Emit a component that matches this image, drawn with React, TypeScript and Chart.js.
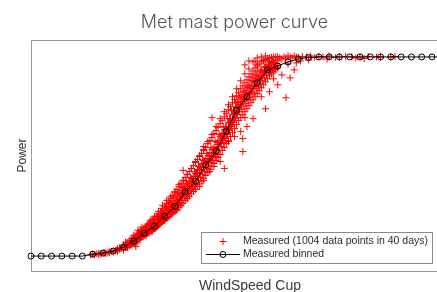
import { useEffect, useRef } from "react";
import { Chart, registerables } from "chart.js";

Chart.register(...registerables);

const titleText = "Met mast power curve";
const xLabel = "WindSpeed Cup";
const yLabel = "Power";
const scatterLabel = "Measured (1004 data points in 40 days)";
const binnedLabel = "Measured binned";

const xRange = [0, 21.3];
const yRange = [-150, 2170];

const binWind = [
  0, 0.5, 1, 1.5, 2, 2.5, 3, 3.5, 4, 4.5, 5, 5.5, 6, 6.5, 7, 7.5, 8, 8.5, 9, 9.5,
  10, 10.5, 11, 11.5, 12, 12.5, 13, 13.5, 14, 14.5, 15, 15.5, 16, 16.5, 17, 17.5,
  18, 18.5, 19, 19.5, 20, 20.5,
];
const binPower = [
  0, 0, 0, 0, 0, 0, 20, 30, 50, 90, 150, 230, 300, 400, 500, 645, 755, 915, 1055, 1255,
  1465, 1600, 1740, 1870, 1910, 1950, 1980, 1995, 2000, 2000, 2000, 2000, 2000, 2000, 2000, 2000,
  2000, 2000, 2000, 2000, 2000, 2000,
];

// scattered measurements [wind speed, power]
const measuredPoints: [number, number][] = [
  [2.9, 10], [3.0, 18], [3.1, 12], [3.2, 22], [3.3, 15], [3.3, 28], [3.4, 20], [3.5, 32], [3.6, 25],
  [3.6, 38], [3.7, 30], [3.8, 42], [3.8, 35], [3.9, 48], [4.0, 40], [4.1, 58], [4.2, 45], [4.2, 62],
  [4.2, 75], [4.3, 68], [4.3, 85], [4.4, 80], [4.5, 72], [4.5, 95], [4.6, 90], [4.6, 110], [4.7, 85],
  [4.7, 120], [4.8, 105], [4.8, 135], [4.9, 120], [4.9, 150], [5.0, 140], [5.1, 95], [5.0, 170], [4.8, 160],
  [5.1, 165], [5.1, 190], [5.2, 175], [5.2, 210], [5.3, 200], [5.3, 235], [5.4, 215], [5.4, 250], [5.5, 225],
  [5.5, 260], [5.6, 245], [5.6, 280], [5.7, 240], [5.7, 300], [5.8, 270], [5.8, 320], [5.9, 290], [5.9, 340],
  [6.0, 310], [6.0, 280], [5.4, 290], [5.2, 260], [5.6, 205], [5.9, 250], [6.1, 300], [5.0, 210], [5.3, 165],
  [6.1, 340], [6.1, 370], [6.2, 355], [6.2, 400], [6.3, 380], [6.3, 420], [6.4, 395], [6.4, 440], [6.5, 410],
  [6.5, 460], [6.6, 430], [6.6, 480], [6.7, 450], [6.7, 500], [6.8, 470], [6.8, 520], [6.9, 490], [6.9, 545],
  [7.0, 510], [7.0, 470], [6.0, 400], [6.2, 450], [6.4, 510], [6.6, 380], [6.8, 420], [7.1, 460], [7.2, 520],
  [5.8, 360], [6.5, 360], [6.9, 440],
  [7.1, 560], [7.1, 600], [7.2, 575], [7.2, 640], [7.3, 600], [7.3, 660], [7.4, 620], [7.4, 690], [7.5, 650],
  [7.5, 700], [7.6, 630], [7.6, 720], [7.7, 680], [7.7, 750], [7.8, 700], [7.8, 780], [7.9, 740], [7.9, 800],
  [8.0, 760], [8.0, 720], [6.8, 600], [7.0, 650], [7.2, 720], [7.4, 760], [7.6, 580], [7.9, 650], [8.2, 700],
  [8.4, 760], [6.6, 560], [7.3, 540],
  [8.0, 830], [8.1, 800], [8.1, 870], [8.2, 840], [8.2, 900], [8.3, 870], [8.3, 930], [8.4, 900], [8.4, 960],
  [8.5, 920], [8.5, 980], [8.6, 950], [8.6, 1010], [8.7, 970], [8.7, 1040], [8.8, 1000], [8.8, 1070], [8.9, 1030],
  [8.9, 1090], [9.0, 1060], [9.0, 1000], [7.6, 820], [7.8, 880], [8.0, 950], [8.2, 1010], [8.4, 1070], [8.7, 850],
  [8.9, 900], [9.2, 950], [9.4, 880], [7.4, 860], [9.1, 1120],
  [9.1, 1100], [9.1, 1160], [9.2, 1130], [9.2, 1200], [9.3, 1160], [9.3, 1230], [9.4, 1190], [9.4, 1270], [9.5, 1230],
  [9.5, 1300], [9.6, 1260], [9.6, 1340], [9.7, 1300], [9.7, 1380], [9.8, 1340], [9.8, 1420], [9.9, 1380], [9.9, 1460],
  [10.0, 1430], [10.0, 1500], [8.6, 1150], [8.8, 1220], [9.0, 1300], [9.2, 1380], [9.4, 1450], [9.6, 1150], [9.9, 1200],
  [10.2, 1250], [10.5, 1300], [10.3, 1180], [8.4, 1100], [10.8, 1380], [8.8, 1390], [10.3, 1050], [10.4, 1390],
  [10.1, 1480], [10.1, 1550], [10.2, 1520], [10.2, 1590], [10.3, 1550], [10.3, 1620], [10.4, 1580], [10.4, 1660],
  [10.5, 1610], [10.5, 1690], [10.6, 1640], [10.6, 1720], [10.7, 1680], [10.7, 1760], [10.8, 1710], [10.8, 1790],
  [10.9, 1750], [10.9, 1820], [11.0, 1780], [11.0, 1850], [11.1, 1810], [11.2, 1870], [11.3, 1840], [11.4, 1900],
  [11.5, 1880], [9.6, 1520], [9.8, 1600], [10.0, 1680], [10.2, 1760], [10.4, 1830], [10.6, 1880], [11.2, 1600],
  [11.6, 1650], [11.4, 1480], [12.4, 1590], [12.0, 1720], [11.8, 1780], [12.2, 1820], [12.6, 1790], [12.8, 1870],
  [11.6, 1920], [11.7, 1950], [11.8, 1930], [11.9, 1970], [12.0, 1960], [12.1, 1990], [12.2, 1980], [12.3, 2000],
  [12.4, 1990], [12.5, 2010], [12.6, 2000], [12.7, 1990], [12.8, 2010], [12.9, 2000], [13.0, 1995], [13.2, 2005],
  [13.4, 2000], [13.6, 2010], [13.8, 1995], [14.0, 2005], [14.2, 2000], [14.5, 2010], [14.8, 1995], [15.0, 2000],
  [15.3, 2005], [15.6, 2000], [16.0, 2000], [16.4, 2005], [16.8, 2000], [17.5, 2000], [10.8, 1950], [11.0, 1990],
  [11.2, 2000], [11.4, 2010], [11.0, 1920], [10.9, 1960], [11.3, 1960], [12.9, 1940], [13.1, 1960], [13.5, 1970],
  [12.5, 1930], [14.4, 1980], [15.8, 1990], [16.2, 1985], [10.6, 1960], [10.4, 1920], [17.0, 2000], [17.7, 2005],
  [4.5, 60], [4.5, 110], [4.5, 95], [4.6, 85], [4.6, 120], [4.6, 140], [4.7, 100], [4.7, 135], [4.7, 90],
  [4.8, 110], [4.8, 150], [4.8, 125], [4.9, 120], [4.9, 175], [4.9, 140], [5.0, 135], [5.0, 190], [5.0, 155],
  [5.1, 150], [5.1, 200], [5.1, 130], [5.2, 165], [5.2, 220], [5.2, 190], [5.3, 180], [5.3, 245], [5.3, 205],
  [5.4, 195], [5.4, 260], [5.4, 230], [5.5, 210], [5.5, 280], [5.5, 240], [5.6, 225], [5.6, 300], [5.6, 255],
  [5.7, 235], [5.7, 320], [5.7, 270], [5.8, 250], [5.8, 340], [5.8, 285], [5.9, 260], [5.9, 360], [5.9, 300],
  [6.0, 275], [6.0, 380], [6.0, 320], [6.1, 290], [6.1, 400], [6.1, 335], [6.2, 310], [6.2, 430], [6.2, 355],
  [6.3, 330], [6.3, 450], [6.3, 375], [6.4, 345], [6.4, 480], [6.4, 400], [6.5, 360], [6.5, 500], [6.5, 420],
  [6.6, 380], [6.6, 530], [6.6, 440], [6.7, 395], [6.7, 555], [6.7, 460], [6.8, 415], [6.8, 580], [6.8, 485],
  [6.9, 430], [6.9, 610], [6.9, 500], [7.0, 450], [7.0, 640], [7.0, 520], [7.1, 470], [7.1, 670], [7.1, 545],
  [7.2, 490], [7.2, 700], [7.2, 570], [7.3, 510], [7.3, 730], [7.3, 600], [7.4, 530], [7.4, 760], [7.4, 625],
  [7.5, 560], [7.5, 790], [7.5, 655], [7.6, 580], [7.6, 820], [7.6, 680], [7.7, 600], [7.7, 850], [7.7, 700],
  [7.8, 625], [7.8, 880], [7.8, 725], [7.9, 650], [7.9, 910], [7.9, 750], [8.0, 670], [8.0, 940], [8.0, 775],
  [8.1, 700], [8.1, 970], [8.1, 800], [8.2, 725], [8.2, 1000], [8.2, 830], [8.3, 750], [8.3, 1030], [8.3, 860],
  [8.4, 780], [8.4, 1060], [8.4, 890], [8.5, 810], [8.5, 1090], [8.5, 925], [8.6, 840], [8.6, 1130], [8.6, 950],
  [8.7, 870], [8.7, 1160], [8.7, 980], [8.8, 900], [8.8, 1190], [8.8, 1010], [8.9, 930], [8.9, 1230], [8.9, 1040],
  [9.0, 960], [9.0, 1260], [9.0, 1070], [9.1, 990], [9.1, 1290], [9.1, 1100], [9.2, 1020], [9.2, 1330], [9.2, 1140],
  [9.3, 1060], [9.3, 1360], [9.3, 1180], [9.4, 1090], [9.4, 1400], [9.4, 1220], [9.5, 1130], [9.5, 1430], [9.5, 1260],
  [9.6, 1160], [9.6, 1470], [9.6, 1300], [9.7, 1200], [9.7, 1500], [9.7, 1340], [9.8, 1240], [9.8, 1540], [9.8, 1380],
  [9.9, 1280], [9.9, 1570], [9.9, 1420], [10.0, 1320], [10.0, 1610], [10.0, 1460], [10.1, 1360], [10.1, 1640], [10.1, 1490],
  [10.2, 1390], [10.2, 1680], [10.2, 1520], [10.3, 1420], [10.3, 1710], [10.3, 1550], [10.4, 1450], [10.4, 1740], [10.4, 1575],
  [10.5, 1480], [10.5, 1770], [10.5, 1600], [10.6, 1510], [10.6, 1800], [10.6, 1630], [10.7, 1540], [10.7, 1830], [10.7, 1655],
  [10.8, 1570], [10.8, 1860], [10.8, 1685], [10.9, 1600], [10.9, 1890], [10.9, 1710], [11.0, 1630], [11.0, 1910], [11.0, 1740],
  [11.1, 1660], [11.1, 1930], [11.1, 1770], [11.2, 1690], [11.2, 1950], [11.2, 1790], [11.3, 1720], [11.3, 1965], [11.3, 1820],
  [11.4, 1750], [11.4, 1975], [11.4, 1845], [11.5, 1780], [11.5, 1985], [11.5, 1870], [11.6, 1810], [11.6, 1990], [11.6, 1880],
  [11.7, 1830], [11.7, 1995], [11.7, 1890], [11.8, 1850], [11.8, 2000], [11.8, 1900], [11.9, 1870], [11.9, 2000], [11.9, 1905],
  [12.0, 1890], [12.0, 2005], [12.0, 1915],
  [5.05, 175], [5.05, 120], [5.15, 150], [5.15, 215], [5.25, 230], [5.25, 170], [5.35, 185], [5.35, 265],
  [5.45, 255], [5.45, 200], [5.55, 210], [5.55, 290], [5.65, 300], [5.65, 225], [5.75, 240], [5.75, 330],
  [5.85, 315], [5.85, 250], [5.95, 270], [5.95, 365], [6.05, 350], [6.05, 280], [6.15, 300], [6.15, 395],
  [6.25, 390], [6.25, 320], [6.35, 345], [6.35, 445], [6.45, 430], [6.45, 355], [6.55, 380], [6.55, 490],
  [6.65, 470], [6.65, 395], [6.75, 420], [6.75, 535], [6.85, 520], [6.85, 430], [6.95, 460], [6.95, 585],
  [7.05, 560], [7.05, 470], [7.15, 505], [7.15, 625], [7.25, 620], [7.25, 530], [7.35, 560], [7.35, 690],
  [7.45, 680], [7.45, 590], [7.55, 610], [7.55, 745], [7.65, 730], [7.65, 635], [7.75, 660], [7.75, 790],
  [7.85, 775], [7.85, 680], [7.95, 700], [7.95, 845], [8.05, 830], [8.05, 725], [8.15, 760], [8.15, 900],
  [8.25, 890], [8.25, 790], [8.35, 820], [8.35, 965], [8.45, 955], [8.45, 850], [8.55, 880], [8.55, 1030],
  [8.65, 1010], [8.65, 905], [8.75, 940], [8.75, 1090], [8.85, 1075], [8.85, 960], [8.95, 990], [8.95, 1150],
  [9.05, 1140], [9.05, 1020], [9.15, 1060], [9.15, 1220], [9.25, 1215], [9.25, 1100], [9.35, 1140], [9.35, 1300],
  [9.45, 1295], [9.45, 1180], [9.55, 1220], [9.55, 1380], [9.65, 1380], [9.65, 1260], [9.75, 1300], [9.75, 1460],
  [9.85, 1465], [9.85, 1345], [9.95, 1390], [9.95, 1540], [10.05, 1540], [10.05, 1420], [10.15, 1450], [10.15, 1600],
  [10.25, 1590], [10.25, 1475], [10.35, 1505], [10.35, 1650], [10.45, 1645], [10.45, 1530], [10.55, 1560], [10.55, 1700],
  [10.65, 1700], [10.65, 1590], [10.75, 1620], [10.75, 1760], [10.85, 1750], [10.85, 1640], [10.95, 1680], [10.95, 1810],
  [11.05, 1800], [11.05, 1700], [11.15, 1730], [11.15, 1860], [11.25, 1850], [11.25, 1760], [11.35, 1790], [11.35, 1900],
  [11.45, 1895], [11.45, 1820], [11.55, 1850], [11.55, 1940], [11.65, 1920], [11.65, 1860], [11.75, 1870], [11.75, 1960],
  [11.85, 1940], [11.85, 1880],
];

const framePlugin = {
  id: "frameBox",
  beforeDatasetsDraw(chart: any) {
    const { ctx, chartArea } = chart;
    const l = Math.round(chartArea.left) + 0.5;
    const t = Math.round(chartArea.top) + 0.5;
    const b = Math.round(chartArea.bottom) + 0.5;
    const r = chart.width;
    ctx.save();
    ctx.strokeStyle = "#999999";
    ctx.lineWidth = 1;
    ctx.beginPath();
    ctx.moveTo(r, t);
    ctx.lineTo(l, t);
    ctx.lineTo(l, b);
    ctx.lineTo(r, b);
    ctx.stroke();
    ctx.restore();
  },
};

const legendPlugin = {
  id: "boxLegend",
  afterDraw(chart: any) {
    const { ctx, chartArea } = chart;
    const labels = chart.data.datasets.map((d: any) => d.label as string);
    ctx.save();
    ctx.font = "10.5px 'Liberation Sans', Arial, sans-serif";
    const textW = Math.max(...labels.map((s: string) => ctx.measureText(s).width));
    const boxW = Math.round(42 + textW + 4);
    const boxH = 31;
    const right = Math.round(chartArea.right - 37);
    const bottom = Math.round(chartArea.bottom - 8);
    const left = right - boxW;
    const top = bottom - boxH;
    ctx.fillStyle = "#ffffff";
    ctx.fillRect(left, top, boxW, boxH);
    ctx.strokeStyle = "#8a8a8a";
    ctx.lineWidth = 1;
    ctx.strokeRect(left + 0.5, top + 0.5, boxW, boxH);
    const row1 = top + 9.5;
    const row2 = top + 22.5;
    const mx = left + 22;
    ctx.strokeStyle = "#ff0000";
    ctx.beginPath();
    ctx.moveTo(mx - 3.5, row1);
    ctx.lineTo(mx + 3.5, row1);
    ctx.moveTo(mx, row1 - 3.5);
    ctx.lineTo(mx, row1 + 3.5);
    ctx.stroke();
    ctx.strokeStyle = "#000000";
    ctx.beginPath();
    ctx.moveTo(left + 5, row2);
    ctx.lineTo(left + 39, row2);
    ctx.stroke();
    ctx.beginPath();
    ctx.arc(mx, row2, 3, 0, Math.PI * 2);
    ctx.stroke();
    ctx.fillStyle = "#2a2a2a";
    ctx.textBaseline = "middle";
    ctx.textAlign = "left";
    ctx.fillText(labels[0], left + 42, row1);
    ctx.fillText(labels[1], left + 42, row2);
    ctx.restore();
  },
};

export default function App() {
  const ref = useRef<HTMLCanvasElement | null>(null);

  useEffect(() => {
    if (!ref.current) return;
    const chart = new Chart(ref.current, {
      type: "scatter",
      data: {
        datasets: [
          {
            label: scatterLabel,
            data: measuredPoints.map(([x, y]) => ({ x, y })),
            pointStyle: "cross",
            pointRadius: 3.5,
            borderColor: "#ff0000",
            backgroundColor: "#ff0000",
            borderWidth: 1,
            order: 2,
          },
          {
            label: binnedLabel,
            data: binWind.map((x, i) => ({ x, y: binPower[i] })),
            showLine: true,
            borderColor: "#000000",
            borderWidth: 1,
            pointStyle: "circle",
            pointRadius: 3,
            pointBorderColor: "#000000",
            pointBackgroundColor: "rgba(0,0,0,0)",
            pointBorderWidth: 1,
            clip: false,
            order: 1,
          } as any,
        ],
      },
      options: {
        responsive: false,
        animation: false,
        layout: { autoPadding: false, padding: { left: 0, right: 0, top: 0, bottom: 0 } },
        plugins: {
          legend: { display: false },
          tooltip: { enabled: false },
          title: {
            display: true,
            text: titleText,
            color: "#555555",
            font: { family: "Inter, 'Liberation Sans', sans-serif", size: 18, weight: 300 as any },
            padding: { top: 12, bottom: 6.4 },
          },
        },
        scales: {
          x: {
            type: "linear",
            min: xRange[0],
            max: xRange[1],
            grid: { display: false },
            border: { display: false },
            ticks: { display: false },
            title: {
              display: true,
              text: xLabel,
              color: "#3a3a3a",
              font: { family: "'Liberation Sans', Arial, sans-serif", size: 14 },
              padding: { top: 0, bottom: 5.5 },
            },
            afterFit: (s: any) => {
              s.height = 29;
            },
          },
          y: {
            type: "linear",
            min: yRange[0],
            max: yRange[1],
            grid: { display: false },
            border: { display: false },
            ticks: { display: false },
            title: {
              display: true,
              text: yLabel,
              color: "#333333",
              font: { family: "'Liberation Sans', Arial, sans-serif", size: 12 },
              padding: { top: 15.3, bottom: 0 },
            },
            afterFit: (s: any) => {
              s.width = 31;
            },
          },
        },
      },
      plugins: [framePlugin, legendPlugin],
    });
    return () => chart.destroy();
  }, []);

  return (
    <canvas
      ref={ref}
      width={469}
      height={300}
      style={{ display: "block", position: "fixed", left: 0, top: 0, maxWidth: "none", background: "#ffffff" }}
    />
  );
}
